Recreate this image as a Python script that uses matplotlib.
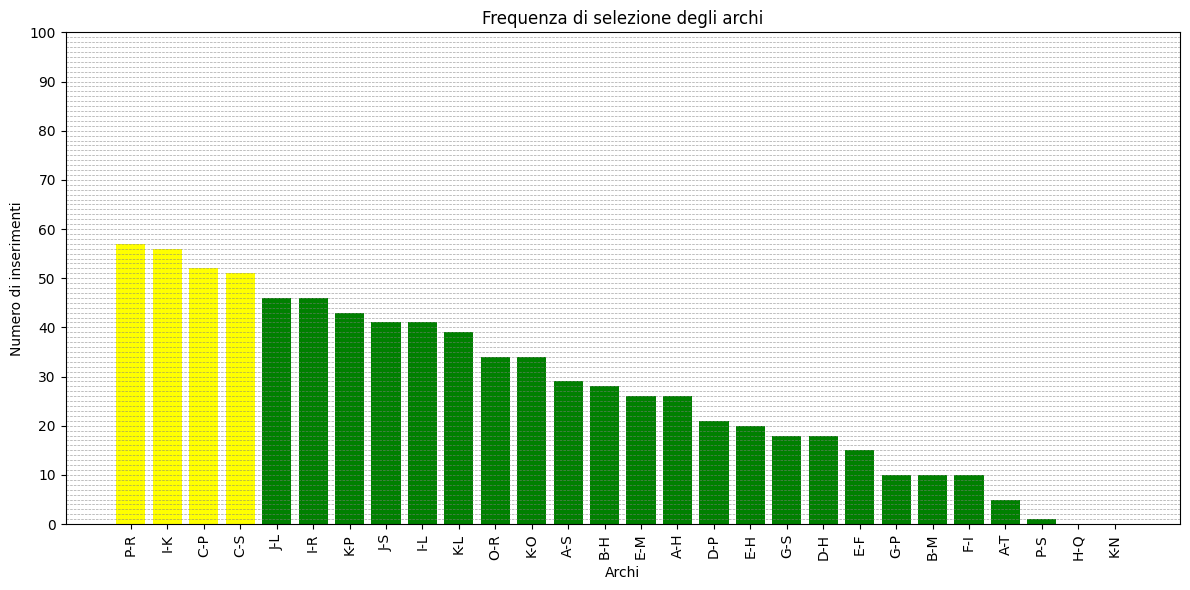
import matplotlib
matplotlib.use("Agg")
import matplotlib.pyplot as plt
from matplotlib.ticker import MultipleLocator

archi = ['P-R', 'I-K', 'C-P', 'C-S', 'J-L', 'I-R', 'K-P', 'J-S', 'I-L', 'K-L',
         'O-R', 'K-O', 'A-S', 'B-H', 'E-M', 'A-H', 'D-P', 'E-H', 'G-S', 'D-H',
         'E-F', 'G-P', 'B-M', 'F-I', 'A-T', 'P-S', 'H-Q', 'K-N']
inserimenti = [57, 56, 52, 51, 46, 46, 43, 41, 41, 39, 34, 34, 29, 28, 26, 26,
               21, 20, 18, 18, 15, 10, 10, 10, 5, 1, 0, 0]
n_top = 4

colori = ['yellow' if i < n_top else 'green' for i in range(len(archi))]

fig, ax = plt.subplots(figsize=(12, 6), dpi=100)
ax.bar(archi, inserimenti, color=colori)
ax.set_title('Frequenza di selezione degli archi')
ax.set_xlabel('Archi')
ax.set_ylabel('Numero di inserimenti')
ax.set_ylim(0, 100)
ax.yaxis.set_major_locator(MultipleLocator(10))
ax.yaxis.set_minor_locator(MultipleLocator(1))
ax.tick_params(axis='y', which='minor', length=0)
ax.grid(axis='y', which='both', linestyle='--', linewidth=0.5, color='gray', alpha=0.7)
plt.xticks(rotation=90)
plt.tight_layout()
plt.savefig('out.png', bbox_inches='tight')
